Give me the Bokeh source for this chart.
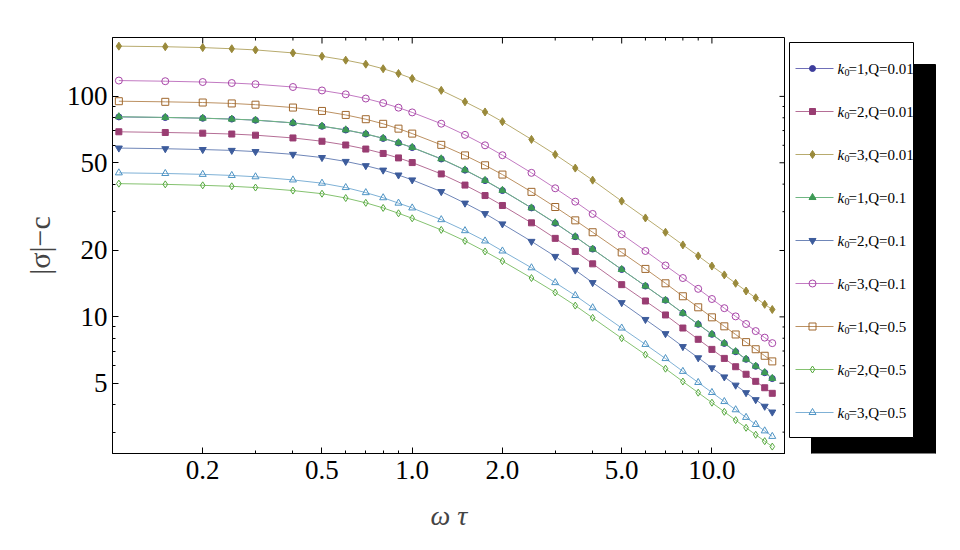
import math
from bokeh.plotting import figure
from bokeh.models import Range1d, LogAxis, FixedTicker, ColumnDataSource, PrintfTickFormatter
from bokeh.layouts import row
from bokeh.embed import file_html
from bokeh.resources import INLINE
from bokeh.core.properties import value

# ---------------- data ----------------
omega_tau = [0.105, 0.15, 0.2, 0.25, 0.3, 0.4, 0.5, 0.6, 0.7, 0.8, 0.9, 1.0,
             1.25, 1.5, 1.75, 2.0, 2.5, 3.0, 3.5, 4.0, 5.0, 6.0, 7.0, 8.0,
             9.0, 10.0, 11.0, 12.0, 13.0, 14.0, 15.0, 15.9]

k1_q001 = [80.7, 80.2, 79.6, 78.9, 78.0, 75.8, 73.2, 70.4, 67.5, 64.5, 61.5, 58.6,
           52.0, 46.3, 41.5, 37.4, 31.2, 26.6, 23.1, 20.3, 16.4, 13.8, 11.9, 10.4,
           9.25, 8.33, 7.58, 6.95, 6.42, 5.97, 5.58, 5.25]
k2_q001 = [69.1, 68.6, 68.1, 67.5, 66.7, 64.8, 62.6, 60.2, 57.7, 55.1, 52.6, 50.1,
           44.5, 39.6, 35.5, 32.0, 26.7, 22.7, 19.8, 17.4, 14.0, 11.8, 10.2, 8.9,
           7.91, 7.12, 6.48, 5.94, 5.49, 5.10, 4.77, 4.5]
k3_q001 = [169, 168, 166.5, 164.5, 162.5, 157.5, 152, 146, 140, 133.5, 127, 120.5,
           106.5, 94.5, 85, 76.8, 63.8, 54.5, 47.3, 41.7, 33.5, 28.1, 24.2, 21.2,
           18.9, 17.0, 15.5, 14.2, 13.1, 12.2, 11.4, 10.8]
k1_q01 = [80.9, 80.3, 79.7, 78.9, 78.1, 75.9, 73.3, 70.5, 67.6, 64.6, 61.6, 58.7,
          52.1, 46.4, 41.6, 37.5, 31.2, 26.7, 23.1, 20.3, 16.4, 13.8, 11.9, 10.4,
          9.26, 8.34, 7.59, 6.96, 6.43, 5.98, 5.59, 5.26]
k2_q01 = [58.3, 57.9, 57.4, 56.9, 56.2, 54.6, 52.8, 50.7, 48.5, 46.3, 44.0, 41.8,
          37.0, 32.8, 29.4, 26.4, 22.0, 18.8, 16.3, 14.3, 11.6, 9.73, 8.39, 7.33,
          6.52, 5.87, 5.34, 4.90, 4.53, 4.21, 3.93, 3.70]
k3_q01 = [118, 117.2, 116.2, 115, 113.6, 110.3, 106.4, 102.2, 97.8, 93.3, 88.9, 84.6,
          75.2, 66.9, 60.0, 54.1, 45.0, 38.3, 33.3, 29.3, 23.7, 19.9, 17.1, 15.0,
          13.4, 12.05, 10.95, 10.05, 9.28, 8.62, 8.05, 7.6]
k1_q05 = [95.1, 94.5, 93.8, 92.9, 91.7, 89.0, 85.9, 82.4, 78.8, 75.1, 71.4, 67.8,
          60.3, 54.0, 48.7, 44.2, 36.9, 31.5, 27.4, 24.2, 19.6, 16.5, 14.2, 12.4,
          11.05, 9.95, 9.06, 8.32, 7.68, 7.13, 6.66, 6.28]
k2_q05 = [40.2, 39.9, 39.5, 39.1, 38.6, 37.4, 36.2, 34.6, 32.9, 31.2, 29.5, 28.0,
          24.8, 22.1, 19.8, 17.9, 15.0, 12.9, 11.25, 9.9, 8.0, 6.74, 5.82, 5.09,
          4.53, 4.08, 3.71, 3.40, 3.14, 2.92, 2.73, 2.58]
k3_q05 = [45.0, 44.7, 44.3, 43.8, 43.2, 41.8, 40.4, 38.6, 36.6, 34.7, 32.8, 31.2,
          27.6, 24.6, 22.1, 19.9, 16.7, 14.3, 12.5, 11.0, 8.9, 7.5, 6.47, 5.66,
          5.04, 4.54, 4.13, 3.79, 3.50, 3.25, 3.04, 2.87]

legend_k = ["1", "2", "3", "1", "2", "3", "1", "2", "3"]
legend_q = ["0.01", "0.01", "0.01", "0.1", "0.1", "0.1", "0.5", "0.5", "0.5"]

x_major = [0.2, 0.5, 1.0, 2.0, 5.0, 10.0]
x_minor = [0.3, 0.4, 0.6, 0.7, 0.8, 0.9, 3.0, 4.0, 6.0, 7.0, 8.0, 9.0]
y_major = [5, 10, 20, 50, 100]
y_minor = [3, 4, 6, 7, 8, 9, 30, 40, 60, 70, 80, 90]

series = [k1_q001, k2_q001, k3_q001, k1_q01, k2_q01, k3_q01, k1_q05, k2_q05, k3_q05]

# ---------------- styles ----------------
styles = [
    dict(color="#3d3d9c", line="#6f6fb8", marker="circle", filled=True, size=6),
    dict(color="#993d72", line="#b56e96", marker="square", filled=True, size=6),
    dict(color="#9a8a3b", line="#b8ab6e", marker="diamond", filled=True, size=8),
    dict(color="#3d9a55", line="#6fb682", marker="triangle", filled=True, size=7),
    dict(color="#3d5c9c", line="#6f86b8", marker="inverted_triangle", filled=True, size=7),
    dict(color="#a845a8", line="#c27ac2", marker="circle", filled=False, size=7),
    dict(color="#a0682e", line="#bc9162", marker="square", filled=False, size=7),
    dict(color="#55a83d", line="#85c270", marker="diamond", filled=False, size=7),
    dict(color="#4d93c4", line="#7fb1d6", marker="triangle", filled=False, size=7),
]

SERIF = "Liberation Serif"
X0, X1 = 0.1, 17.6
Y0, Y1 = 2.4, 185.0
FRAME_W, FRAME_H = 673, 416
BORDER_L, BORDER_T, BORDER_B = 112, 37, 85
H = BORDER_T + FRAME_H + BORDER_B

# ---------------- main plot ----------------
p = figure(width=BORDER_L + FRAME_W, height=H, x_axis_type="log", y_axis_type="log",
           x_range=Range1d(X0, X1), y_range=Range1d(Y0, Y1),
           x_axis_location=None, y_axis_location=None,
           output_backend="svg", toolbar_location=None,
           min_border_left=BORDER_L, min_border_right=0,
           min_border_top=BORDER_T, min_border_bottom=BORDER_B)
p.grid.visible = False
p.outline_line_color = "black"
p.outline_line_width = 1
p.background_fill_color = "white"


def style_axis(ax):
    ax.axis_line_color = "black"
    ax.major_tick_line_color = "black"
    ax.minor_tick_line_color = "black"
    ax.major_tick_in = 6
    ax.major_tick_out = 0
    ax.minor_tick_in = 3
    ax.minor_tick_out = 0
    ax.major_label_text_font = SERIF
    ax.major_label_text_color = "black"
    ax.major_label_text_font_size = "27px"


xb = LogAxis(ticker=FixedTicker(ticks=x_major, minor_ticks=x_minor),
             formatter=PrintfTickFormatter(format="%.1f"))
style_axis(xb)
xb.major_label_standoff = 7
xb.axis_label = "ω τ"
xb.axis_label_text_font = SERIF
xb.axis_label_text_font_style = "italic"
xb.axis_label_text_font_size = "28px"
xb.axis_label_standoff = 18
p.add_layout(xb, "below")

yl = LogAxis(ticker=FixedTicker(ticks=y_major, minor_ticks=y_minor),
             formatter=PrintfTickFormatter(format="%d"))
style_axis(yl)
yl.major_label_standoff = 5
yl.axis_label = "|σ|−c"
yl.axis_label_text_font = SERIF
yl.axis_label_text_font_style = "normal"
yl.axis_label_text_font_size = "30px"
yl.axis_label_standoff = 8
p.add_layout(yl, "left")

# mirrored inward ticks on the top and right frame edges
ydec = math.log10(Y1) - math.log10(Y0)
xdec = math.log10(X1) - math.log10(X0)
fy = lambda px: 10 ** (px * ydec / FRAME_H)
fx = lambda px: 10 ** (px * xdec / FRAME_W)

top_src = ColumnDataSource(dict(
    x=x_major + x_minor,
    y0=[Y1] * (len(x_major) + len(x_minor)),
    y1=[Y1 / fy(6)] * len(x_major) + [Y1 / fy(3)] * len(x_minor)))
p.segment(x0="x", x1="x", y0="y0", y1="y1", source=top_src, line_color="black", line_width=1)
right_src = ColumnDataSource(dict(
    y=y_major + y_minor,
    x0=[X1] * (len(y_major) + len(y_minor)),
    x1=[X1 / fx(6)] * len(y_major) + [X1 / fx(3)] * len(y_minor)))
p.segment(x0="x0", x1="x1", y0="y", y1="y", source=right_src, line_color="black", line_width=1)

for vals, st in zip(series, styles):
    src = ColumnDataSource(dict(x=omega_tau, y=vals))
    p.line("x", "y", source=src, line_color=st["line"], line_width=1)
    if st["filled"]:
        p.scatter("x", "y", source=src, marker=st["marker"], size=st["size"],
                  fill_color=st["color"], line_color=st["color"], line_width=1)
    else:
        p.scatter("x", "y", source=src, marker=st["marker"], size=st["size"],
                  fill_alpha=0, line_color=st["color"], line_width=1)

# ---------------- legend panel (page-pixel coordinates) ----------------
LX0 = BORDER_L + FRAME_W
lg = figure(width=160, height=H, x_range=Range1d(LX0, LX0 + 160),
            y_range=Range1d(BORDER_T + FRAME_H, BORDER_T),
            x_axis_location=None, y_axis_location=None,
            output_backend="svg", toolbar_location=None,
            min_border_left=0, min_border_right=0,
            min_border_top=BORDER_T, min_border_bottom=BORDER_B)
lg.grid.visible = False
lg.outline_line_color = None

lg.quad(left=[811], right=[935], top=[64], bottom=[459], fill_color="black", line_color="black")
lg.quad(left=[789], right=[913], top=[42], bottom=[437], fill_color="white", line_color="black",
        line_width=1)

for i, st in enumerate(styles):
    yy = 68 + 43 * i
    lg.line([795, 833], [yy, yy], line_color=st["line"], line_width=1)
    if st["filled"]:
        lg.scatter([812], [yy], marker=st["marker"], size=st["size"],
                   fill_color=st["color"], line_color=st["color"])
    else:
        lg.scatter([812], [yy], marker=st["marker"], size=st["size"],
                   fill_alpha=0, line_color=st["color"])
    lg.text([837], [yy], text=["k"], text_font=value(SERIF), text_font_style="italic",
            text_font_size="15px", text_baseline="middle", text_color="black")
    lg.text([844], [yy + 4], text=["0"], text_font=value(SERIF),
            text_font_size="10px", text_baseline="middle", text_color="black")
    lg.text([848], [yy], text=["=" + legend_k[i] + ",Q=" + legend_q[i]], text_font=value(SERIF),
            text_font_size="15px", text_baseline="middle", text_color="black")

layout = row(p, lg)
open("out.html", "w").write(file_html(layout, INLINE))
